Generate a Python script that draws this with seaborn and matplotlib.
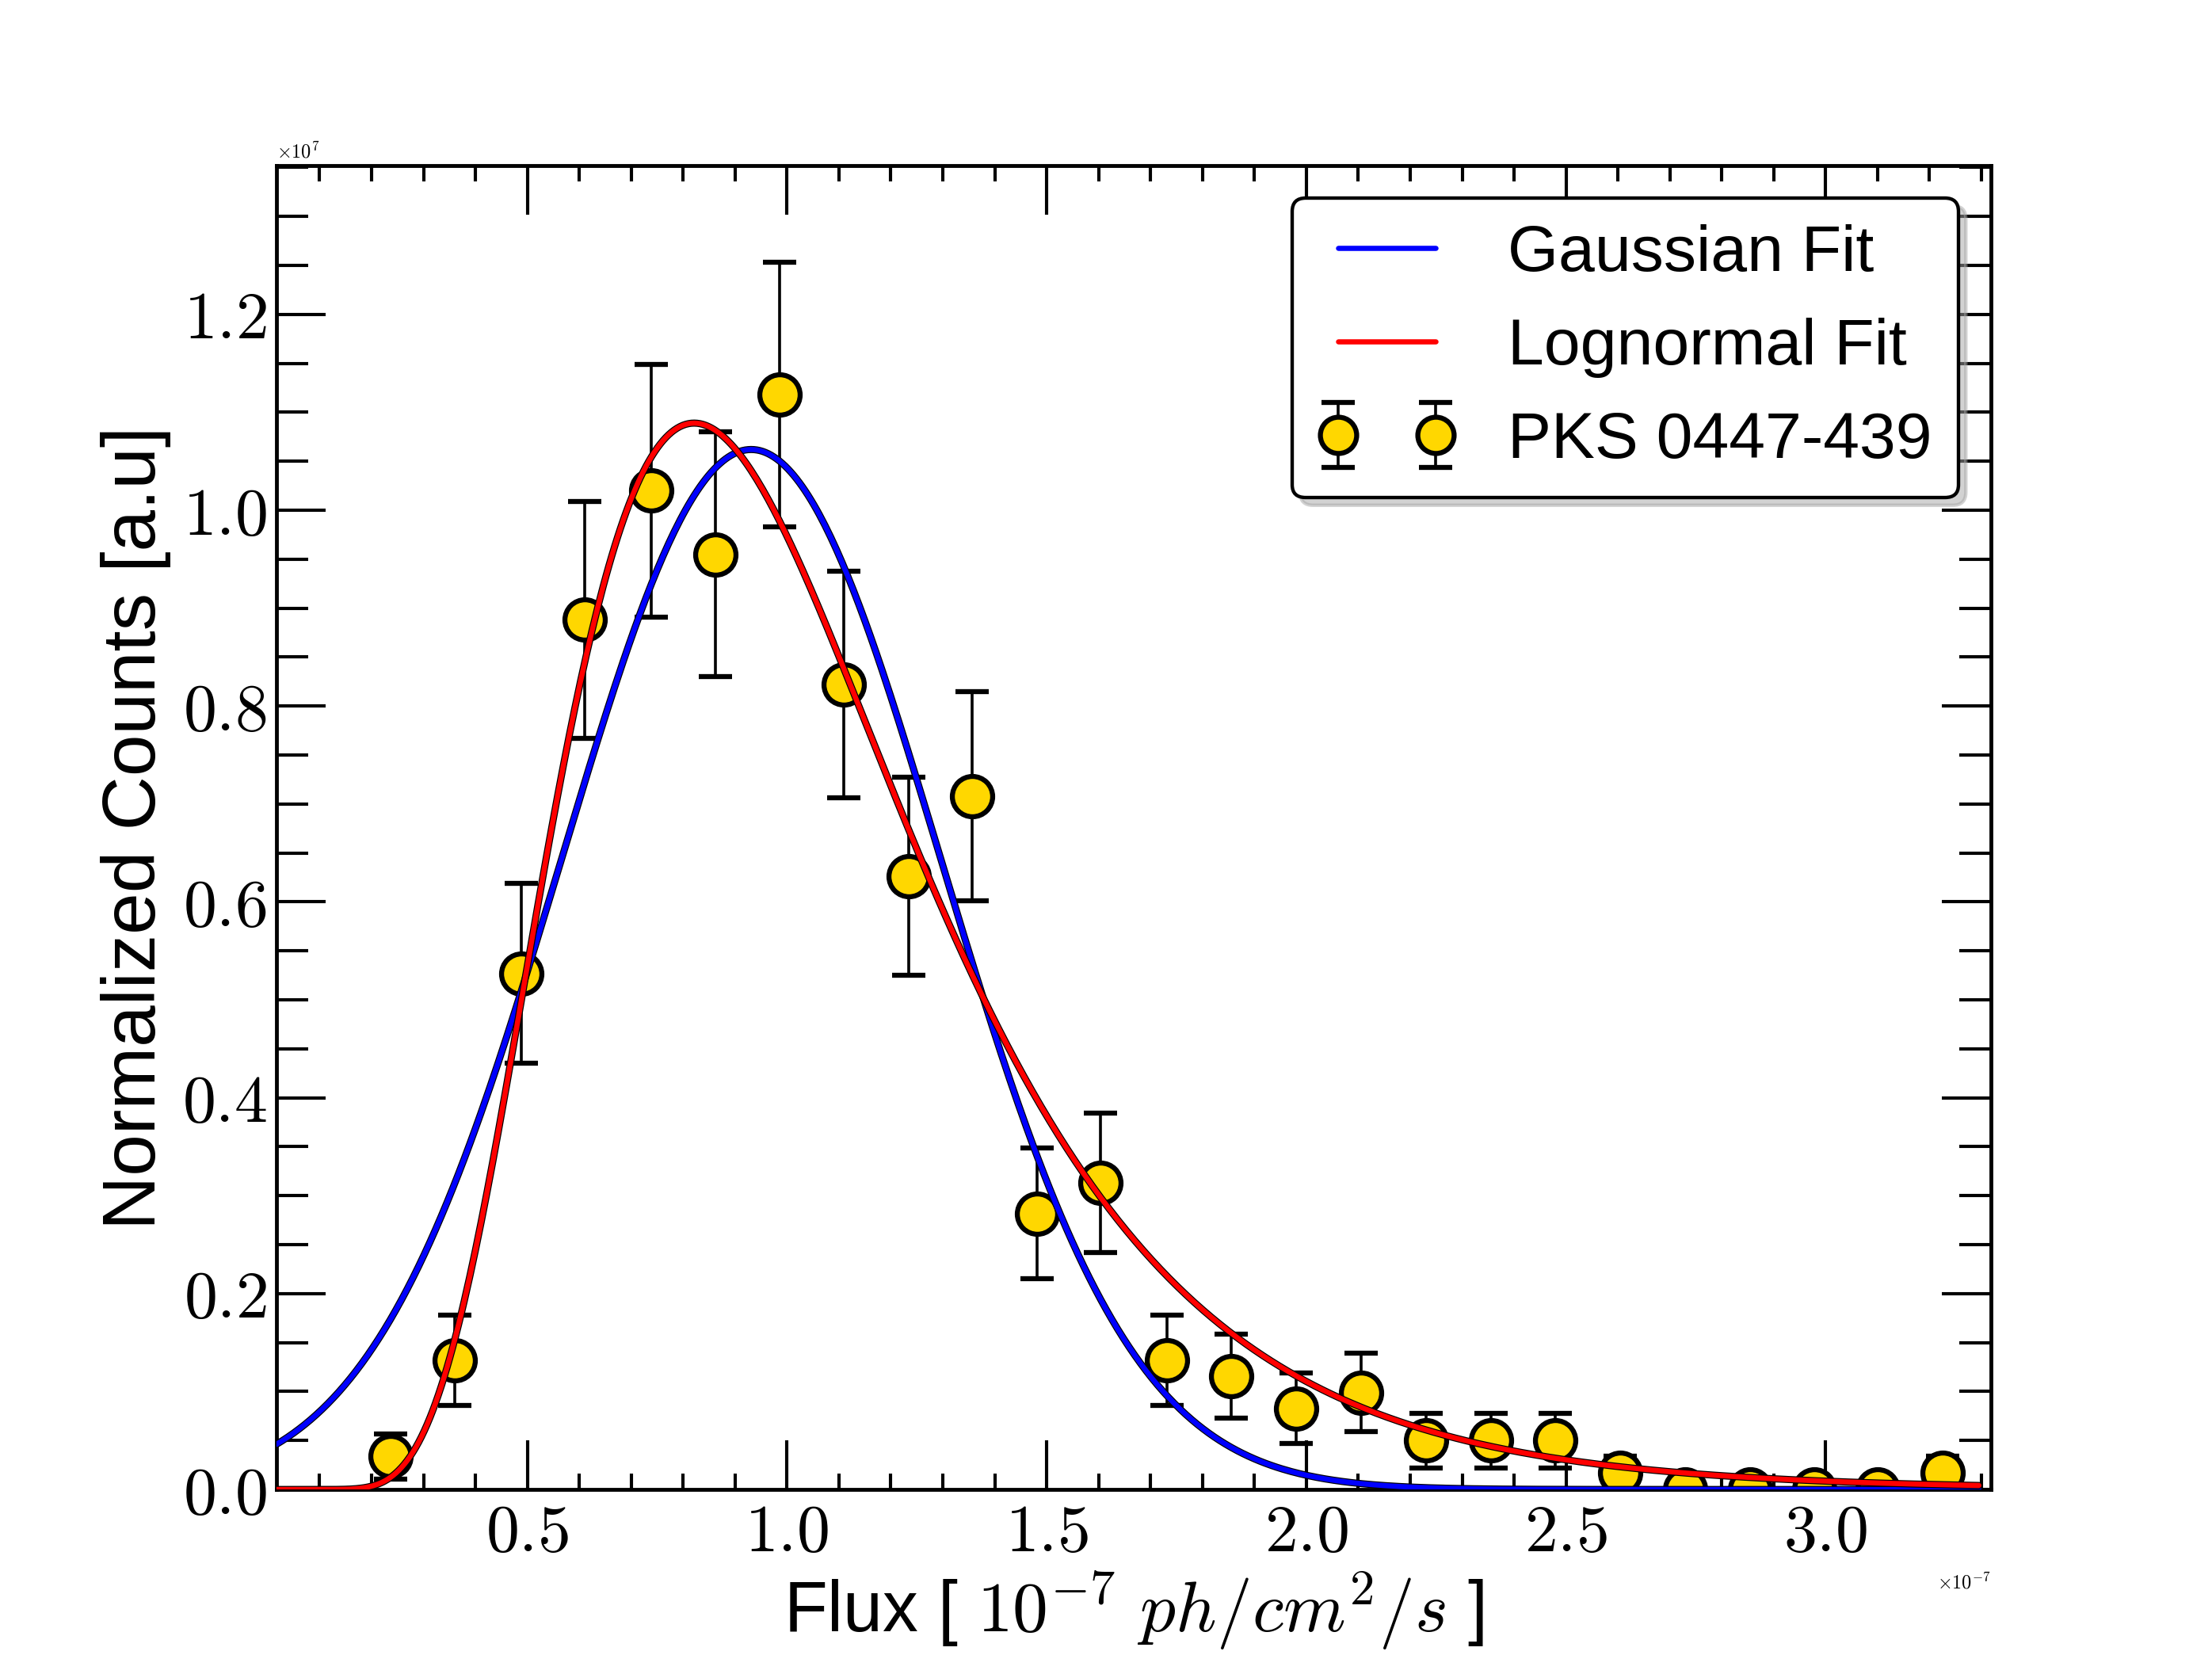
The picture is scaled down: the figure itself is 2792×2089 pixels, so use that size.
#!/usr/bin/env python3
import matplotlib

matplotlib.use("Agg")

import matplotlib.patheffects as pe
import matplotlib.pyplot as plt
import numpy as np
import seaborn as sns
from matplotlib.ticker import FuncFormatter, MultipleLocator

# binned flux distribution of PKS 0447-439 (x in 1e-7 ph/cm2/s, y in 1e7 a.u.)
flux = [0.237, 0.361, 0.488, 0.611, 0.738, 0.862, 0.985, 1.110, 1.234, 1.357,
        1.482, 1.604, 1.731, 1.856, 1.980, 2.105, 2.230, 2.355, 2.479, 2.604,
        2.729, 2.854, 2.978, 3.100, 3.225]
counts = [0.034, 0.132, 0.527, 0.888, 1.020, 0.955, 1.118, 0.822, 0.626, 0.708,
          0.282, 0.313, 0.132, 0.116, 0.083, 0.099, 0.050, 0.050, 0.050, 0.017,
          0.0, 0.0, 0.0, 0.0, 0.017]
counts_err = [0.023, 0.046, 0.092, 0.121, 0.129, 0.125, 0.135, 0.116, 0.101, 0.107,
              0.067, 0.071, 0.046, 0.043, 0.036, 0.040, 0.028, 0.028, 0.028, 0.017,
              0.0, 0.0, 0.0, 0.0, 0.017]

# fit parameters
GAUSS_AMP, GAUSS_MEAN, GAUSS_SIGMA = 1.062, 0.931, 0.365
LOGN_AMP, LOGN_MU, LOGN_SIGMA = 0.975, -0.024, 0.416
FIT_RANGE = (0.017, 3.295)

X_LIM = (0.017, 3.318)
Y_LIM = (0.0, 1.352)


def gaussian(x):
    return GAUSS_AMP * np.exp(-((x - GAUSS_MEAN) ** 2) / (2 * GAUSS_SIGMA ** 2))


def lognormal(x):
    return LOGN_AMP / x * np.exp(-((np.log(x) - LOGN_MU) ** 2) / (2 * LOGN_SIGMA ** 2))


def set_style() -> None:
    sns.set_theme(style="ticks")
    plt.rcParams.update(
        {
            "font.family": ["Liberation Sans", "DejaVu Sans"],
            "mathtext.fontset": "cm",
            "axes.linewidth": 1.0,
            "axes.edgecolor": "black",
            "xtick.direction": "in",
            "ytick.direction": "in",
            "xtick.top": True,
            "ytick.right": True,
            "xtick.color": "black",
            "ytick.color": "black",
            "text.color": "black",
            "axes.labelcolor": "black",
        }
    )


def main() -> None:
    set_style()
    fig, ax = plt.subplots(figsize=(2792 / 349, 2089 / 349), dpi=349)
    fig.subplots_adjust(left=0.125, right=0.9, bottom=0.1, top=0.9)

    eb = ax.errorbar(
        flux, counts, yerr=counts_err,
        fmt="o", color="black", ecolor="black", elinewidth=0.75,
        capsize=4.3, capthick=0.75,
        markersize=10.5, markerfacecolor="#FFD700", markeredgecolor="black",
        markeredgewidth=1.3, label="PKS 0447-439", zorder=2,
    )

    xfit = np.linspace(FIT_RANGE[0], FIT_RANGE[1], 600)
    sns.lineplot(x=xfit, y=gaussian(xfit), color="#0000FF", linewidth=1.35,
                 label="Gaussian Fit", ax=ax, zorder=3)
    sns.lineplot(x=xfit, y=lognormal(xfit), color="#FF0000", linewidth=1.35,
                 label="Lognormal Fit", ax=ax, zorder=4)
    line_g, line_l = ax.lines[-2], ax.lines[-1]
    for ln in (line_g, line_l):
        ln.set_path_effects([pe.Stroke(linewidth=1.85, foreground="black"), pe.Normal()])

    ax.set_xlim(*X_LIM)
    ax.set_ylim(*Y_LIM)

    ax.xaxis.set_major_locator(MultipleLocator(0.5))
    ax.xaxis.set_minor_locator(MultipleLocator(0.1))
    ax.yaxis.set_major_locator(MultipleLocator(0.2))
    ax.yaxis.set_minor_locator(MultipleLocator(0.05))
    tick_fmt = FuncFormatter(lambda v, p: f"${v:.1f}$")
    ax.xaxis.set_major_formatter(tick_fmt)
    ax.yaxis.set_major_formatter(tick_fmt)

    ax.tick_params(which="major", length=12.7, width=0.85, labelsize=17.3)
    ax.tick_params(axis="x", which="major", pad=3.5)
    ax.tick_params(axis="y", which="major", pad=2.5)
    ax.tick_params(axis="x", which="minor", length=4.2, width=0.85)
    ax.tick_params(axis="y", which="minor", length=8.2, width=0.85)

    ax.text(0.0, 1.003, r"$\times10^{7}$", transform=ax.transAxes,
            ha="left", va="bottom", fontsize=5)
    ax.text(1.0, -0.07, r"$\times10^{-7}$", transform=ax.transAxes,
            ha="right", va="center", fontsize=5)

    ax.set_xlabel(r"Flux [ $10^{-7}\ ph/cm^2/s$ ]", fontsize=18.5, labelpad=1)
    ax.set_ylabel("Normalized Counts [a.u]", fontsize=19.5, labelpad=3)

    leg = ax.legend(
        handles=[line_g, line_l, eb],
        labels=["Gaussian Fit", "Lognormal Fit", "PKS 0447-439"],
        loc="upper right", fontsize=17, numpoints=2,
        shadow={"shade": 0.35}, fancybox=True,
        framealpha=1, edgecolor="black", handlelength=2.1, handletextpad=0.8,
        labelspacing=0.51, borderpad=0.4, markerscale=0.9,
    )
    leg.get_frame().set_linewidth(0.9)
    for ln in leg.get_lines():
        ln.set_path_effects([])

    fig.savefig("out.png", dpi=349)
    plt.close(fig)


if __name__ == "__main__":
    main()
